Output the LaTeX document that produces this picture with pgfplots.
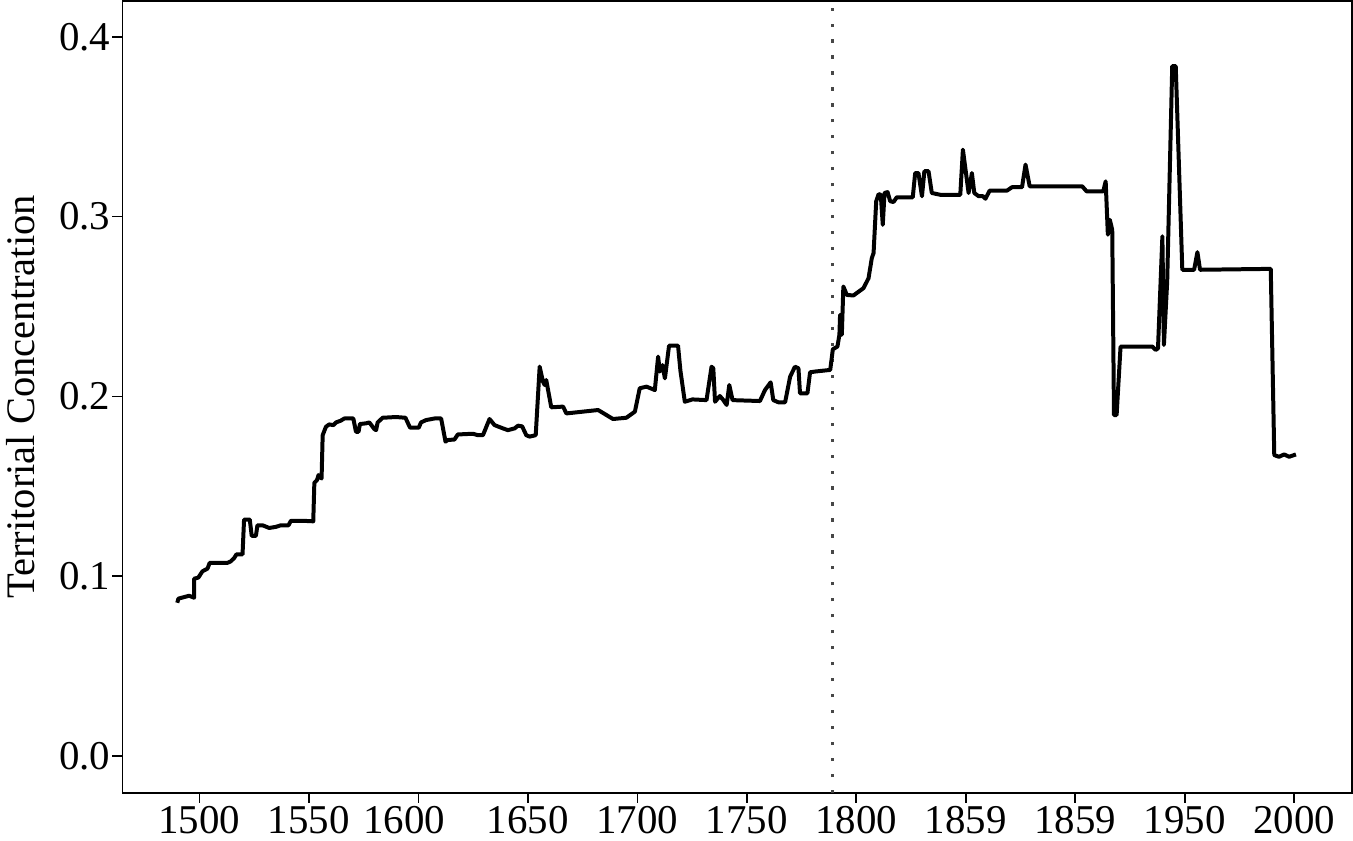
\documentclass[border=0pt]{standalone}
\usepackage{pgfplots}
\pgfplotsset{compat=1.18}
\usepackage{fontspec}
\setmainfont{Liberation Serif}

\begin{document}
\begin{tikzpicture}
\begin{axis}[
    scale only axis,
    width=614bp, height=395.5bp,
    xmin=1464.8, xmax=2026.5,
    ymin=-0.0206, ymax=0.42,
    axis line style={line width=0.8pt},
    tick style={line width=0.8pt, black},
    tick align=outside,
    major tick length=5pt,
    xtick pos=bottom, ytick pos=left,
    xtick={1500,1550,1600,1650,1700,1750,1800,1850,1900,1950,2000},
    xticklabels={1500,1550,{\hspace*{-14pt}1600},1650,1700,1750,1800,1859,1859,1950,2000},
    ytick={0,0.1,0.2,0.3,0.4},
    /pgf/number format/assume math mode=true,
    tick label style={font=\fontsize{20.5}{24}\selectfont},
    yticklabel style={xshift=2.5bp, /pgf/number format/.cd, fixed, fixed zerofill, precision=1},
    xticklabel style={yshift=2bp},
    ylabel={Territorial Concentration},
    ylabel style={font=\fontsize{20.3}{24}\selectfont,
        at={([xshift=-40bp]axis description cs:0,0.5)}, anchor=south},
]
% French Revolution marker
\addplot[line width=1.6pt, black!72, dash pattern=on 1.6pt off 6.4pt]
  coordinates {(1789,-0.0206) (1789,0.42)};

\addplot[black, line width=2pt, line join=round] coordinates {
(1489.9,0.0852) (1490.4,0.0875) (1495.3,0.0891) (1497.6,0.0880) (1497.6,0.0986)
(1499.5,0.0992) (1501.4,0.1027) (1503.7,0.1042) (1504.7,0.1074) (1512.8,0.1074)
(1514.3,0.1082) (1515.9,0.1101) (1516.9,0.1121) (1519.7,0.1121) (1520.4,0.1315)
(1523.0,0.1315) (1523.9,0.1224) (1525.8,0.1224) (1526.5,0.1283) (1528.8,0.1283)
(1531.9,0.1268) (1534.9,0.1274) (1537.2,0.1283) (1540.7,0.1283) (1541.8,0.1308)
(1547.1,0.1308) (1552.0,0.1305) (1552.5,0.1519) (1553.7,0.1534) (1554.4,0.1562)
(1555.8,0.1543) (1556.3,0.1784) (1557.8,0.1831) (1559.3,0.1844) (1561.2,0.1840)
(1562.4,0.1855) (1564.6,0.1865) (1566.2,0.1877) (1570.3,0.1877) (1571.5,0.1803)
(1572.7,0.1803) (1573.3,0.1846) (1576.1,0.1850) (1577.6,0.1855) (1579.9,0.1818)
(1580.7,0.1812) (1581.4,0.1855) (1583.7,0.1881) (1589.8,0.1885) (1594.1,0.1881)
(1596.2,0.1826) (1600.2,0.1826) (1601.2,0.1855) (1603.5,0.1868) (1607.4,0.1877)
(1610.4,0.1877) (1612.4,0.1748) (1613.4,0.1757) (1616.5,0.1760) (1618.0,0.1788)
(1624.9,0.1792) (1627.2,0.1784) (1629.5,0.1784) (1632.5,0.1874) (1634.8,0.1840)
(1638.6,0.1822) (1640.9,0.1812) (1644.0,0.1822) (1645.5,0.1837) (1647.4,0.1833)
(1649.3,0.1784) (1650.8,0.1776) (1653.6,0.1784) (1655.4,0.2165) (1656.9,0.2082)
(1657.7,0.2063) (1658.4,0.2091) (1660.7,0.1939) (1666.1,0.1943) (1667.6,0.1905)
(1675.2,0.1915) (1682.1,0.1924) (1688.9,0.1874) (1695.0,0.1881) (1698.9,0.1915)
(1701.1,0.2045) (1704.2,0.2054) (1708.0,0.2035) (1709.5,0.2221) (1710.3,0.2138)
(1711.5,0.2174) (1712.6,0.2100) (1714.5,0.2282) (1718.6,0.2282) (1719.7,0.2141)
(1721.7,0.1970) (1725.2,0.1983) (1731.6,0.1979) (1733.9,0.2165) (1734.7,0.2156)
(1735.5,0.1970) (1737.7,0.2002) (1739.3,0.1979) (1740.8,0.1952) (1742.0,0.2063)
(1743.5,0.1979) (1756.0,0.1974) (1758.3,0.2035) (1760.9,0.2078) (1762.1,0.1979)
(1764.4,0.1967) (1767.5,0.1967) (1769.8,0.2110) (1772.0,0.2165) (1773.6,0.2156)
(1774.3,0.2017) (1777.7,0.2017) (1778.9,0.2134) (1781.2,0.2138) (1788.1,0.2147)
(1789.3,0.2262) (1791.4,0.2277) (1792.3,0.2342) (1792.6,0.2453) (1793.4,0.2342)
(1794.1,0.2611) (1795.7,0.2564) (1798.7,0.2561) (1803.3,0.2602) (1805.6,0.2657)
(1807.1,0.2769) (1807.9,0.2797) (1809.1,0.3085) (1810.2,0.3125) (1811.2,0.3121)
(1812.1,0.2954) (1812.9,0.3131) (1814.3,0.3136) (1815.5,0.3085) (1817.0,0.3081)
(1818.5,0.3107) (1825.8,0.3107) (1826.9,0.3242) (1828.4,0.3242) (1830.0,0.3113)
(1831.1,0.3252) (1833.0,0.3252) (1834.5,0.3131) (1838.4,0.3121) (1847.5,0.3121)
(1848.7,0.3372) (1851.3,0.3131) (1852.8,0.3242) (1853.9,0.3131) (1855.9,0.3113)
(1857.9,0.3113) (1859.0,0.3099) (1860.9,0.3144) (1868.8,0.3144) (1871.1,0.3163)
(1875.7,0.3163) (1877.3,0.3289) (1879.2,0.3168) (1903.2,0.3168) (1905.2,0.3140)
(1912.8,0.3140) (1913.9,0.3196) (1914.9,0.2899) (1915.8,0.2982) (1916.9,0.2926)
(1917.7,0.1896) (1918.9,0.1896) (1920.7,0.2277) (1935.2,0.2277) (1936.7,0.2258)
(1937.8,0.2267) (1939.8,0.2890) (1940.5,0.2286) (1942.0,0.2639) (1944.3,0.3837)
(1945.9,0.3837) (1948.9,0.2704) (1954.3,0.2704) (1955.8,0.2802) (1957.0,0.2704)
(1989.3,0.2709) (1990.9,0.1673) (1993.1,0.1664) (1995.4,0.1677) (1997.7,0.1664)
(2000.8,0.1677)
};
\end{axis}
\end{tikzpicture}
\end{document}
